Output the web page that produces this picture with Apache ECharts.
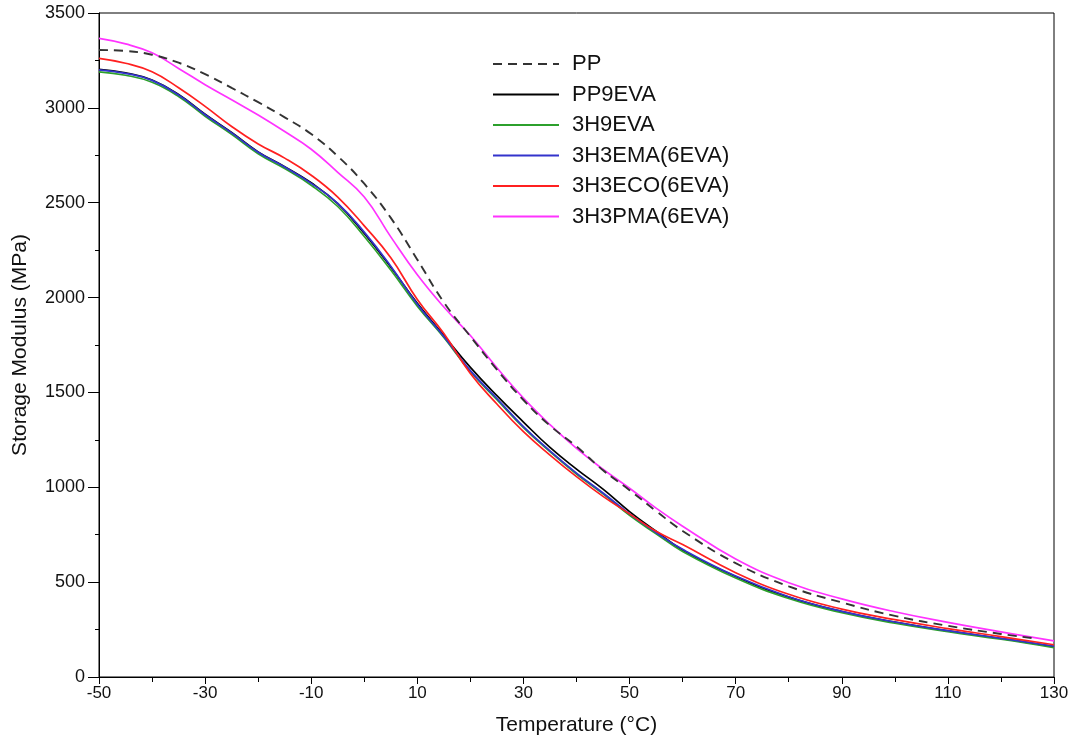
<!DOCTYPE html>
<html>
<head>
<meta charset="utf-8">
<title>Storage Modulus vs Temperature</title>
<script src="https://cdn.jsdelivr.net/npm/echarts@6/dist/echarts.min.js"></script>
<style>
  html, body { margin: 0; padding: 0; background: #fff; }
  #chart { width: 1082px; height: 747px; }
</style>
</head>
<body>
<div id="chart"></div>
<script>
// Temperatures (°C) at which each curve is sampled
const tempsFull = [-50, -45, -40, -35, -30, -25, -20, -15, -10, -5, 0, 5, 10, 15, 20, 25, 30, 35, 40, 45, 50, 55, 60, 70, 80, 90, 100, 110, 120, 130];
const tempsPP   = [-50, -45, -40, -35, -30, -25, -20, -15, -10, -5, 0, 5, 10, 15, 20, 25, 30, 35, 40, 45, 50, 55, 60, 70, 80, 90, 100, 110, 120, 126];

// Storage modulus (MPa)
const ppValues      = [3305, 3300, 3280, 3238, 3178, 3105, 3030, 2950, 2862, 2745, 2600, 2420, 2200, 1975, 1795, 1620, 1460, 1325, 1215, 1090, 985, 875, 770, 600, 478, 393, 322, 270, 227, 205];
const pp9evaValues  = [3203, 3185, 3147, 3070, 2966, 2870, 2768, 2690, 2605, 2495, 2338, 2160, 1970, 1800, 1632, 1483, 1344, 1210, 1096, 990, 872, 768, 670, 530, 421, 345, 289, 243, 203, 160];
const h9evaValues   = [3190, 3172, 3135, 3060, 2956, 2860, 2758, 2680, 2592, 2480, 2322, 2145, 1955, 1790, 1610, 1462, 1315, 1188, 1070, 965, 852, 755, 662, 522, 414, 339, 284, 239, 199, 155];
const h3emaValues   = [3200, 3182, 3145, 3068, 2964, 2868, 2766, 2688, 2602, 2497, 2345, 2165, 1965, 1795, 1615, 1468, 1320, 1192, 1075, 970, 860, 762, 673, 532, 423, 346, 290, 244, 204, 162];
const h3ecoValues   = [3261, 3235, 3190, 3106, 3008, 2902, 2810, 2735, 2645, 2530, 2378, 2210, 1990, 1810, 1600, 1439, 1293, 1170, 1056, 952, 860, 768, 698, 550, 436, 358, 302, 255, 213, 170];
const h3pmaValues   = [3366, 3337, 3290, 3208, 3122, 3043, 2962, 2875, 2782, 2660, 2530, 2320, 2120, 1950, 1800, 1630, 1470, 1330, 1205, 1095, 995, 890, 795, 622, 497, 412, 344, 288, 238, 190];

const seriesNames  = ['PP', 'PP9EVA', '3H9EVA', '3H3EMA(6EVA)', '3H3ECO(6EVA)', '3H3PMA(6EVA)'];
const seriesColors = ['#333333', '#000000', '#2ca02c', '#3333cc', '#ff2020', '#ff33ff'];

function pairs(xs, ys) {
  return xs.map((x, i) => [x, ys[i]]);
}

const seriesData = [
  pairs(tempsPP, ppValues),
  pairs(tempsFull, pp9evaValues),
  pairs(tempsFull, h9evaValues),
  pairs(tempsFull, h3emaValues),
  pairs(tempsFull, h3ecoValues),
  pairs(tempsFull, h3pmaValues)
];

const font = 'Liberation Sans, Arial, sans-serif';

const chart = echarts.init(document.getElementById('chart'), null, { renderer: 'canvas' });

chart.setOption({
  backgroundColor: '#ffffff',
  animation: false,
  grid: {
    left: 99, right: 28, top: 13, bottom: 70,
    containLabel: false,
    outerBoundsMode: 'none',
    show: true, borderColor: '#000', borderWidth: 1
  },
  legend: {
    orient: 'vertical',
    left: 487,
    top: 48,
    itemWidth: 66,
    itemHeight: 14,
    itemGap: 8.5,
    data: seriesNames,
    itemStyle: { opacity: 0 },
    textStyle: { fontFamily: font, fontSize: 22, color: '#111', padding: [0, 0, 0, 8] }
  },
  xAxis: {
    type: 'value',
    min: -50, max: 130, interval: 20,
    name: 'Temperature (°C)',
    nameLocation: 'middle',
    nameGap: 38,
    nameTextStyle: { fontFamily: font, fontSize: 21, color: '#111' },
    axisLine: { show: true, onZero: false, lineStyle: { color: '#000', width: 1 } },
    axisTick: { show: true, inside: false, length: 7, lineStyle: { color: '#000' } },
    minorTick: { show: true, splitNumber: 2, length: 5, lineStyle: { color: '#000' } },
    axisLabel: { fontFamily: font, fontSize: 17, color: '#111', margin: 8, formatter: v => String(v) },
    splitLine: { show: false },
    minorSplitLine: { show: false }
  },
  yAxis: {
    type: 'value',
    min: 0, max: 3500, interval: 500,
    name: 'Storage Modulus (MPa)',
    nameLocation: 'middle',
    nameGap: 68,
    nameRotate: 90,
    nameTextStyle: { fontFamily: font, fontSize: 21, color: '#111' },
    axisLine: { show: true, onZero: false, lineStyle: { color: '#000', width: 1 } },
    axisTick: { show: true, inside: false, length: 11, lineStyle: { color: '#000' } },
    minorTick: { show: true, splitNumber: 2, length: 4, lineStyle: { color: '#000' } },
    axisLabel: { fontFamily: font, fontSize: 18, color: '#111', margin: 14, formatter: v => String(v) },
    splitLine: { show: false },
    minorSplitLine: { show: false }
  },
  series: seriesNames.map((name, i) => ({
    name: name,
    type: 'line',
    data: seriesData[i],
    smooth: 0.45,
    symbol: 'none',
    color: seriesColors[i],
    lineStyle: {
      color: seriesColors[i],
      width: i === 0 ? 1.9 : 1.7,
      type: i === 0 ? [9, 6] : 'solid'
    },
    z: i === 0 ? 3 : 2
  }))
});
</script>
</body>
</html>
